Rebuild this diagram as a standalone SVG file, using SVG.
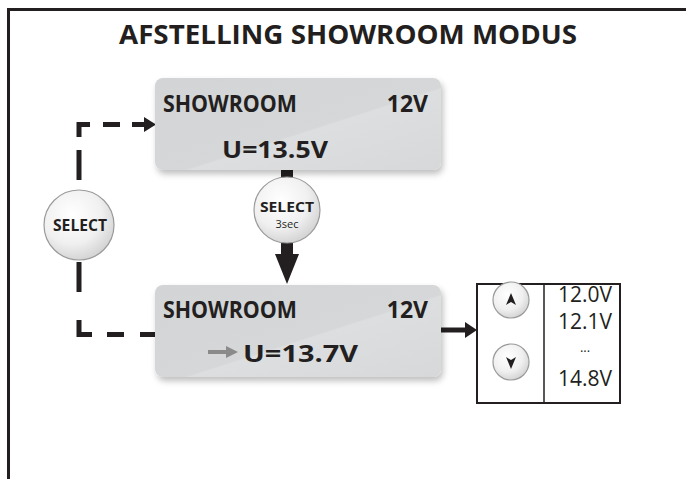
<svg xmlns="http://www.w3.org/2000/svg" width="686" height="479" viewBox="0 0 686 479">
<style>
.frame{stroke:#231f20;stroke-width:3;fill:none}
.lcd{fill:url(#lcdg);filter:url(#sh)}
.bt{font-family:"Open Sans","Liberation Sans",Arial,sans-serif;font-weight:bold;fill:#231f20}
.rt{font-family:"Open Sans","Liberation Sans",Arial,sans-serif;fill:#231f20}
.btn{fill:url(#btng);stroke:#9a9a9a;stroke-width:1.2}
.dash{stroke:#231f20;stroke-width:5;fill:none}
.solid{stroke:#231f20;stroke-width:5;fill:none}
</style>
<defs>
<linearGradient id="lcdg" x1="0" y1="0" x2="1" y2="1">
<stop offset="0" stop-color="#d2d4d6"/>
<stop offset="0.55" stop-color="#d5d7d9"/>
<stop offset="0.56" stop-color="#dcdedf"/>
<stop offset="1" stop-color="#d6d8da"/>
</linearGradient>
<radialGradient id="btng" cx="0.4" cy="0.35" r="0.7">
<stop offset="0" stop-color="#ffffff"/>
<stop offset="0.6" stop-color="#f0f0f0"/>
<stop offset="1" stop-color="#d0d0d0"/>
</radialGradient>
<filter id="sh" x="-10%" y="-10%" width="125%" height="130%">
<feDropShadow dx="2" dy="4" stdDeviation="3" flood-color="#000" flood-opacity="0.25"/>
</filter>
</defs>

<path class="frame" d="M8.5,479 V9.5 H686"/>
<text class="bt" x="348" y="44" font-size="27" text-anchor="middle" textLength="458" lengthAdjust="spacingAndGlyphs">AFSTELLING SHOWROOM MODUS</text>

<g id="connectors">
<path class="dash" d="M79,137 V124.5 H90"/>
<line class="dash" x1="103" y1="124.5" x2="120" y2="124.5"/>
<line class="dash" x1="132" y1="124.5" x2="146" y2="124.5"/>
<polygon points="144,117 156,124.5 144,132" fill="#231f20"/>
<line class="dash" x1="79" y1="150" x2="79" y2="180"/>
<line class="dash" x1="79" y1="262" x2="79" y2="292"/>
<path class="dash" d="M79,320 V334.5 H92"/>
<line class="dash" x1="107" y1="334.5" x2="124" y2="334.5"/>
<line class="dash" x1="140" y1="334.5" x2="156" y2="334.5"/>
<rect x="281" y="168" width="12" height="90" fill="#231f20"/>
<polygon points="275,254 299,254 287,284" fill="#231f20"/>
<line class="solid" x1="441" y1="330" x2="467" y2="330"/>
<polygon points="465,322 477,330 465,338" fill="#231f20"/>
</g>

<g id="lcd1">
<rect class="lcd" x="155" y="78" width="286" height="92" rx="8"/>
<text class="bt" x="163" y="112" font-size="23" textLength="134" lengthAdjust="spacingAndGlyphs">SHOWROOM</text>
<text class="bt" x="428" y="112" font-size="23" text-anchor="end">12V</text>
<text class="bt" x="222" y="158" font-size="24" textLength="106" lengthAdjust="spacingAndGlyphs">U=13.5V</text>
</g>

<g id="lcd2">
<rect class="lcd" x="155" y="285" width="286" height="92" rx="8"/>
<text class="bt" x="163" y="318" font-size="23" textLength="134" lengthAdjust="spacingAndGlyphs">SHOWROOM</text>
<text class="bt" x="428" y="318" font-size="23" text-anchor="end">12V</text>
<line x1="208" y1="352" x2="228" y2="352" stroke="#8a8a8a" stroke-width="4"/>
<polygon points="226,346 238,352 226,358" fill="#8a8a8a"/>
<text class="bt" x="243" y="362" font-size="24" textLength="115" lengthAdjust="spacingAndGlyphs">U=13.7V</text>
</g>

<g id="select-left">
<circle class="btn" cx="79" cy="225" r="35"/>
<text class="bt" x="80" y="231" font-size="16" text-anchor="middle" textLength="54" lengthAdjust="spacingAndGlyphs">SELECT</text>
</g>

<g id="select-3sec">
<circle class="btn" cx="287" cy="210" r="33"/>
<text class="bt" x="287" y="212" font-size="15" text-anchor="middle" textLength="54" lengthAdjust="spacingAndGlyphs">SELECT</text>
<text class="rt" x="287" y="228" font-size="11" text-anchor="middle">3sec</text>
</g>

<g id="value-panel">
<rect x="477" y="284" width="143" height="119" fill="#fff" stroke="#231f20" stroke-width="2"/>
<line x1="544" y1="284" x2="544" y2="403" stroke="#231f20" stroke-width="1.5"/>
<circle class="btn" cx="511" cy="300" r="18"/>
<polygon points="511,293 516,305 511,302 506,305" fill="#231f20"/>
<circle class="btn" cx="511" cy="362" r="18"/>
<polygon points="511,369 516,357 511,360 506,357" fill="#231f20"/>
<text class="rt" x="585" y="302" font-size="21" text-anchor="middle">12.0V</text>
<text class="rt" x="585" y="329" font-size="21" text-anchor="middle">12.1V</text>
<text class="rt" x="585" y="352" font-size="13" text-anchor="middle">...</text>
<text class="rt" x="585" y="386" font-size="21" text-anchor="middle">14.8V</text>
</g>
</svg>
